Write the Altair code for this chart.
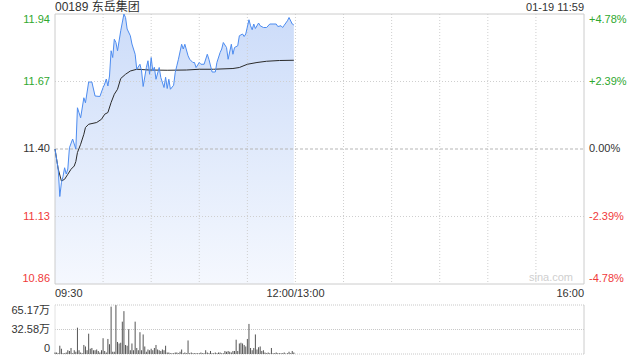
import altair as alt
import pandas as pd

# ---------------- data ----------------
title_text = "00189 东岳集团"
stamp_text = "01-19 11:59"
prev_close = 11.40

price_min = [0, 1, 2, 3, 4, 5, 6, 7, 8, 9, 11, 12, 13, 14, 15, 16, 18, 19, 21, 23,
             25, 28, 30, 31, 32, 33, 34, 35, 36, 37, 38, 39, 41, 43, 44, 45, 47, 48, 50, 51,
             53, 54, 55, 57, 58, 59, 60, 61, 62, 63, 65, 66, 68, 69, 70, 71, 72, 74, 75, 76,
             77, 79, 80, 81, 83, 84, 86, 87, 88, 90, 91, 93, 95, 96, 98, 100, 101, 103, 104, 105,
             107, 108, 110, 111, 112, 114, 115, 117, 118, 119, 121, 122, 123, 124, 125, 127, 128, 130, 132, 134,
             136, 138, 139, 141, 142, 143, 145, 146, 148, 149]
price_val = [11.40, 11.36, 11.32, 11.21, 11.265, 11.29, 11.325, 11.30, 11.32, 11.405, 11.44, 11.42, 11.40, 11.565, 11.545, 11.525, 11.605, 11.585, 11.668, 11.668,
             11.612, 11.61, 11.646, 11.66, 11.68, 11.652, 11.692, 11.793, 11.766, 11.839, 11.826, 11.793, 11.873, 11.94, 11.926, 11.88, 11.853, 11.82, 11.779, 11.719,
             11.739, 11.712, 11.65, 11.726, 11.753, 11.699, 11.766, 11.712, 11.727, 11.679, 11.726, 11.686, 11.646, 11.687, 11.642, 11.679, 11.639, 11.655, 11.706, 11.733,
             11.759, 11.819, 11.80, 11.819, 11.773, 11.759, 11.746, 11.746, 11.726, 11.746, 11.739, 11.739, 11.779, 11.759, 11.708, 11.708, 11.746, 11.786, 11.80, 11.826,
             11.806, 11.759, 11.819, 11.779, 11.806, 11.813, 11.853, 11.86, 11.85, 11.86, 11.917, 11.893, 11.877, 11.90, 11.882, 11.904, 11.893, 11.886, 11.886, 11.90,
             11.90, 11.90, 11.89, 11.893, 11.886, 11.895, 11.913, 11.926, 11.90, 11.896]

avg_min = [0, 1, 2, 4, 6, 8, 10, 12, 13, 14, 16, 18, 19, 21, 26, 29, 31, 33, 35, 37,
           39, 41, 44, 47, 51, 59, 70, 82, 90, 99, 111, 115, 120, 126, 132, 140, 149]
avg_val = [11.40, 11.36, 11.32, 11.272, 11.279, 11.299, 11.319, 11.332, 11.35, 11.386, 11.419, 11.459, 11.486, 11.499, 11.506, 11.519, 11.539, 11.546, 11.586, 11.619,
           11.639, 11.682, 11.699, 11.712, 11.719, 11.716, 11.715, 11.716, 11.719, 11.719, 11.722, 11.726, 11.739, 11.746, 11.751, 11.754, 11.755]

# volume per minute, in 万
vol = [2, 2, 1, 11, 7, 1, 1, 2, 5, 4, 8, 1, 5, 3, 35, 5, 2, 1, 12, 10,
       5, 27, 7, 8, 5, 5, 6, 4, 2, 5, 21, 4, 2, 20, 13, 63, 3, 3, 65, 16,
       14, 15, 43, 57, 12, 11, 33, 5, 14, 5, 43, 8, 5, 29, 5, 26, 10, 3, 6, 5,
       7, 5, 8, 12, 6, 5, 4, 6, 5, 11, 2, 2, 1, 1, 1, 2, 2, 1, 3, 6,
       1, 2, 1, 18, 1, 2, 1, 1, 1, 1, 1, 2, 1, 1, 5, 2, 1, 4, 1, 1,
       2, 1, 2, 2, 1, 1, 4, 3, 4, 3, 2, 4, 4, 19, 4, 14, 15, 14, 12, 10,
       20, 40, 8, 5, 8, 26, 6, 9, 10, 4, 5, 2, 1, 2, 1, 8, 1, 1, 2, 1,
       1, 1, 1, 2, 0.5, 1, 3, 1, 4, 2]
vol_min = list(range(len(vol)))

price_ticks = [11.94, 11.67, 11.40, 11.13, 10.86]
price_labels = ["11.94", "11.67", "11.40", "11.13", "10.86"]
pct_labels = ["+4.78%", "+2.39%", "0.00%", "-2.39%", "-4.78%"]
vol_ticks = [65.17, 32.58, 0]
vol_labels = ["65.17万", "32.58万", "0"]
time_labels = ["09:30", "12:00/13:00", "16:00"]
time_ticks = [0, 150, 330]
grid_minutes = [30, 60, 90, 120, 150, 180, 210, 240, 270, 300]

# ---------------- styling ----------------
FONT = "Liberation Sans, Arial, Noto Sans CJK SC"
GREEN = "#2fa82f"
RED = "#f03a3a"
FLAT = "#333333"
GRID = "#cfcfcf"
BORDER = "#cccccc"

pmin, pmax = price_ticks[-1], price_ticks[0]
vmax = vol_ticks[0]
tmax = time_ticks[-1]


def XS():
    return alt.Scale(domain=[0, tmax], nice=False, zero=False)


def YP():
    return alt.Scale(domain=[pmin, pmax], range=[270, 0], nice=False, zero=False)


def YV():
    return alt.Scale(domain=[0, vmax], range=[340, 291], nice=False, zero=False)


def xf(field="m"):
    return alt.X(f"{field}:Q", scale=XS(), axis=None)


def xd(v):
    return alt.XDatum(v, scale=XS(), axis=None)


def yp(field="p"):
    return alt.Y(f"{field}:Q", scale=YP(), axis=None)


def ypd(v):
    return alt.YDatum(v, scale=YP(), axis=None)


def yv(field="v"):
    return alt.Y(f"{field}:Q", scale=YV(), axis=None)


def yvd(v):
    return alt.YDatum(v, scale=YV(), axis=None)


price_df = pd.DataFrame({"m": price_min, "p": price_val})
avg_df = pd.DataFrame({"m": avg_min, "p": avg_val})
vol_df = pd.DataFrame({"m": vol_min, "v": vol})
ptick_df = pd.DataFrame({"p": price_ticks, "lab": price_labels, "pct": pct_labels})
vtick_df = pd.DataFrame({"v": vol_ticks, "lab": vol_labels})
grid_df = pd.DataFrame({"m": grid_minutes})

gradient = alt.Gradient(
    gradient="linear",
    stops=[alt.GradientStop(color="#ccdcf9", offset=0),
           alt.GradientStop(color="#f5f8fe", offset=1)],
    x1=1, x2=1, y1=0, y2=1,
)

layers = []

layers.append(alt.Chart(price_df).mark_area(color=gradient, opacity=1).encode(
    x=xf(), y=yp(), y2=alt.Y2Datum(pmin)))

layers.append(alt.Chart(grid_df).mark_rule(color=GRID, strokeDash=[1, 2], strokeWidth=1).encode(
    x=xf(), y=ypd(pmax), y2=alt.Y2Datum(pmin)))

layers.append(alt.Chart(ptick_df).transform_filter(
    f"datum.p != {pmax} && datum.p != {pmin} && datum.p != {prev_close}"
).mark_rule(color=GRID, strokeDash=[1, 2], strokeWidth=1).encode(
    x=xd(0), x2=alt.X2Datum(tmax), y=yp()))

layers.append(alt.Chart(ptick_df).transform_filter(
    f"datum.p == {prev_close}"
).mark_rule(color="#b5b5b5", strokeDash=[3, 2], strokeWidth=1).encode(
    x=xd(0), x2=alt.X2Datum(tmax), y=yp()))

layers.append(alt.Chart(ptick_df).transform_filter(
    f"datum.p == {pmax} || datum.p == {pmin}"
).mark_rule(color=BORDER, strokeWidth=1).encode(
    x=xd(0), x2=alt.X2Datum(tmax), y=yp()))

layers.append(alt.Chart(pd.DataFrame({"m": [0, tmax]})).mark_rule(color=BORDER, strokeWidth=1).encode(
    x=xf(), y=ypd(pmax), y2=alt.Y2Datum(pmin)))

layers.append(alt.Chart(avg_df).mark_line(color="#2a2a2a", strokeWidth=1).encode(x=xf(), y=yp()))
layers.append(alt.Chart(price_df).mark_line(color="#4d8cf0", strokeWidth=1).encode(x=xf(), y=yp()))

kind_color = alt.Color(
    "kind:N",
    scale=alt.Scale(domain=["up", "flat", "down"], range=[GREEN, FLAT, RED]),
    legend=None,
)


def price_label_layer(field, align, dx, flt, baseline):
    return alt.Chart(ptick_df).transform_calculate(
        kind=f"datum.p > {prev_close} ? 'up' : (datum.p < {prev_close} ? 'down' : 'flat')"
    ).transform_filter(flt).mark_text(
        font=FONT, fontSize=11, align=align, dx=dx, baseline=baseline
    ).encode(
        x=xd(0 if align == "right" else tmax),
        y=yp(), text=f"{field}:N", color=kind_color,
    )


for field, align, dx in [("lab", "right", -5), ("pct", "left", 5)]:
    layers.append(price_label_layer(field, align, dx, f"datum.p == {pmax}", "top"))
    layers.append(price_label_layer(field, align, dx, f"datum.p < {pmax} && datum.p > {pmin}", "middle"))
    layers.append(price_label_layer(field, align, dx, f"datum.p == {pmin}", "bottom"))

for t, lab, align in zip(time_ticks, time_labels, ["left", "center", "right"]):
    layers.append(
        alt.Chart(pd.DataFrame({"m": [t], "lab": [lab]})).mark_text(
            font=FONT, fontSize=11, align=align, baseline="top", dy=4, color="#333333"
        ).encode(x=xf(), y=ypd(pmin), text="lab:N")
    )

layers.append(alt.Chart(pd.DataFrame({"t": [title_text]})).mark_text(
    font=FONT, fontSize=12, align="left", baseline="alphabetic", dy=-3, color="#333333"
).encode(x=xd(0), y=ypd(pmax), text="t:N"))

layers.append(alt.Chart(pd.DataFrame({"t": [stamp_text]})).mark_text(
    font=FONT, fontSize=11, align="right", baseline="alphabetic", dy=-3, color="#333333"
).encode(x=xd(tmax), y=ypd(pmax), text="t:N"))

layers.append(alt.Chart(pd.DataFrame({"t": ["sina.com"]})).mark_text(
    font=FONT, fontSize=11, align="right", baseline="bottom", dx=-11, dy=-1, color="#cfcfcf"
).encode(x=xd(tmax), y=ypd(pmin), text="t:N"))

# ---------------- volume panel ----------------
layers.append(alt.Chart(vtick_df).mark_rule(color="#c8c8c8", strokeDash=[1, 1], strokeWidth=1).encode(
    x=xd(0), x2=alt.X2Datum(tmax), y=yv()))
layers.append(alt.Chart(pd.DataFrame({"m": [0]})).mark_rule(color="#e2e2e2", strokeWidth=1).encode(
    x=xf(), y=yvd(vmax), y2=alt.Y2Datum(0)))
layers.append(alt.Chart(pd.DataFrame({"m": [tmax]})).mark_rule(color=BORDER, strokeWidth=1).encode(
    x=xf(), y=yvd(vmax), y2=alt.Y2Datum(0)))
layers.append(alt.Chart(vol_df).mark_rule(color="#555555", strokeWidth=1).encode(
    x=xf(), y=yv(), y2=alt.Y2Datum(0)))


def vol_label(flt, baseline):
    return alt.Chart(vtick_df).transform_filter(flt).mark_text(
        font=FONT, fontSize=11, align="right", dx=-5, baseline=baseline, color="#333333"
    ).encode(x=xd(0), y=yv(), text="lab:N")


layers.append(vol_label(f"datum.v == {vmax}", "top"))
layers.append(vol_label(f"datum.v < {vmax} && datum.v > 0", "middle"))
layers.append(vol_label("datum.v == 0", "bottom"))

chart = alt.layer(*layers).resolve_scale(y="independent").properties(
    width=529, height=340,
    autosize=alt.AutoSizeParams(type="none"),
    padding={"left": 55, "top": 14, "right": 56, "bottom": 6},
    background="white",
).configure_view(strokeWidth=0)

chart.save("out.html", embed_options={"renderer": "svg", "actions": False})
